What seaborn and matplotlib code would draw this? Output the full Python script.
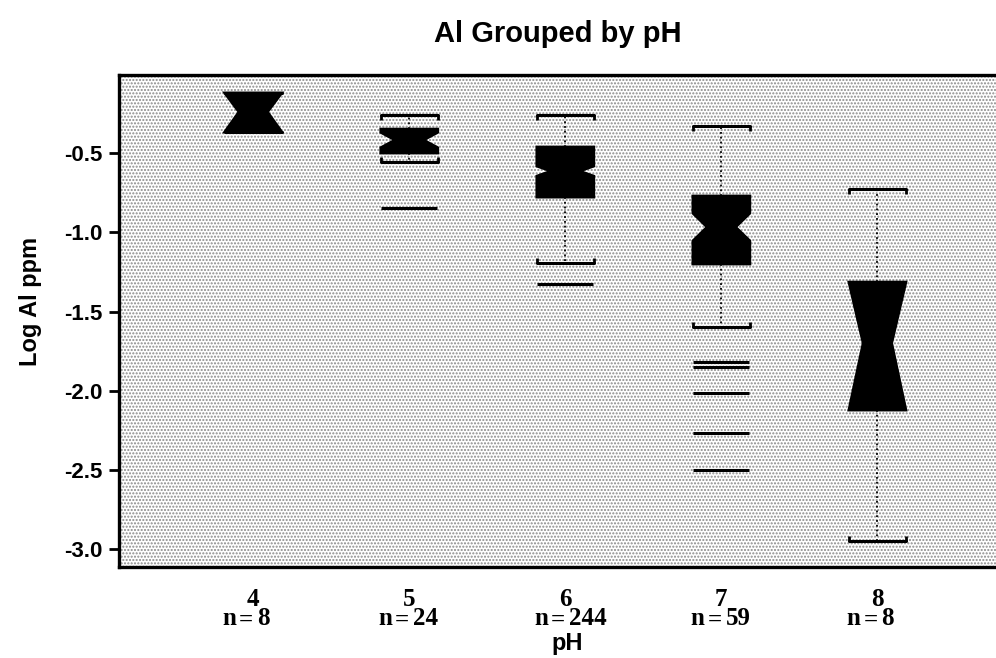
import math
import pandas as pd
import seaborn as sns
import matplotlib.pyplot as plt
from matplotlib.patches import Rectangle

# valeurs (log Al ppm)
ph_levels = ["4", "5", "6", "7", "8"]
counts = [8, 24, 244, 59, 8]
q1 = [-0.367, -0.500, -0.778, -1.200, -2.121]
medians = [-0.241, -0.418, -0.614, -0.967, -1.699]
q3 = [-0.121, -0.349, -0.462, -0.771, -1.314]
whisk_lo = [-0.367, -0.557, -1.194, -1.596, -2.946]
whisk_hi = [-0.121, -0.260, -0.260, -0.330, -0.729]
outliers = [[], [-0.847], [-1.327], [-1.821, -1.852, -2.016, -2.268, -2.496], []]


def expand(n, lo, a, m, b, hi, outs):
    # On refait un échantillon de taille n qui redonne les quartiles lus
    # (comme ça le notch de seaborn/matplotlib garde la bonne largeur)
    k1 = math.ceil(0.25 * (n - 1))
    k2 = math.ceil(0.5 * (n - 1))
    start = len(outs) + 1
    return list(outs) + [lo] + [a] * (k1 - start + 1) + [m] * (k2 - k1) + [b] * (n - 2 - k2) + [hi]


rows = []
for i, ph in enumerate(ph_levels):
    vals = expand(counts[i], whisk_lo[i], q1[i], medians[i], q3[i], whisk_hi[i], outliers[i])
    rows += [(ph, v) for v in vals]
df = pd.DataFrame(rows, columns=["pH", "logAl"])

sns.set_style("white")
plt.rcParams['font.family'] = ['Liberation Sans', 'DejaVu Sans']
for k in ['text.color', 'axes.labelcolor', 'xtick.color', 'ytick.color']:
    plt.rcParams[k] = 'black'

fig = plt.figure(figsize=(9.96, 6.58), dpi=100)
ax = fig.add_axes([0.1195, 0.138, 0.8805, 0.748])

# fond "pointillé" comme le scan d'origine
ax.add_patch(Rectangle((0, 0), 1, 1, transform=ax.transAxes, facecolor='white',
                       edgecolor='#8a8a8a', hatch='.....', linewidth=0, zorder=0))
n_bg = len(ax.patches)

box_w = 0.365
sns.boxplot(data=df, x="pH", y="logAl", order=ph_levels, width=box_w, notch=True, whis=1.4,
            color="black", linecolor="black", linewidth=2, ax=ax, capwidths=box_w,
            whiskerprops=dict(linestyle=':', linewidth=1.3),
            capprops=dict(linewidth=2.2),
            flierprops=dict(marker='_', markersize=41, markeredgewidth=2.2,
                            markeredgecolor='black'))

# comme dans S-PLUS : l'encoche ne dépasse pas les quartiles
for i, p in enumerate(ax.patches[n_bg:n_bg + len(ph_levels)]):
    verts = p.get_path().vertices
    verts[:, 1] = verts[:, 1].clip(q1[i], q3[i])

# petits crochets au bout des moustaches
for i in range(1, len(ph_levels)):
    for x in (i - box_w / 2, i + box_w / 2):
        ax.vlines(x, whisk_hi[i], whisk_hi[i] - 0.03, color='black', linewidth=2)
        ax.vlines(x, whisk_lo[i], whisk_lo[i] + 0.03, color='black', linewidth=2)

ax.set_xlim(-0.86, 4.76)
ax.set_ylim(-3.112, -0.008)
ax.set_yticks([-0.5, -1.0, -1.5, -2.0, -2.5, -3.0])
ax.set_yticklabels(["-0.5", "-1.0", "-1.5", "-2.0", "-2.5", "-3.0"], fontsize=16, fontweight='bold')
ax.tick_params(axis='y', length=7, width=2, pad=5, left=True)
ax.tick_params(axis='x', length=0, pad=15)
for lab in ax.get_xticklabels():
    lab.set_fontfamily('Liberation Serif')
    lab.set_fontweight('bold')
    lab.set_fontsize(18)

for i, n in enumerate(counts):
    ax.annotate("=", xy=(i, 0), xycoords=('data', 'axes fraction'), xytext=(-5, -38),
                textcoords='offset points', ha='center', va='center', fontsize=18,
                fontweight='bold', family='Liberation Serif')
    ax.annotate("n", xy=(i, 0), xycoords=('data', 'axes fraction'), xytext=(-12, -37),
                textcoords='offset points', ha='right', va='center', fontsize=18,
                fontweight='bold', family='Liberation Serif')
    ax.annotate(str(n), xy=(i, 0), xycoords=('data', 'axes fraction'), xytext=(3, -37),
                textcoords='offset points', ha='left', va='center', fontsize=18,
                fontweight='bold', family='Liberation Serif')

ax.set_xlabel("pH", fontsize=17, fontweight='bold')
ax.xaxis.set_label_coords(0.5 + 10 / 877, -0.132)
ax.set_ylabel("Log Al ppm", fontsize=17, fontweight='bold')
ax.yaxis.set_label_coords(-0.088, 0.54)
ax.set_title("Al Grouped by pH", fontsize=21, fontweight='bold', pad=24)

for side in ['left', 'top', 'bottom']:
    ax.spines[side].set_linewidth(2.4)
    ax.spines[side].set_color('black')
ax.spines['right'].set_visible(False)

plt.savefig("out.png", dpi=100)
